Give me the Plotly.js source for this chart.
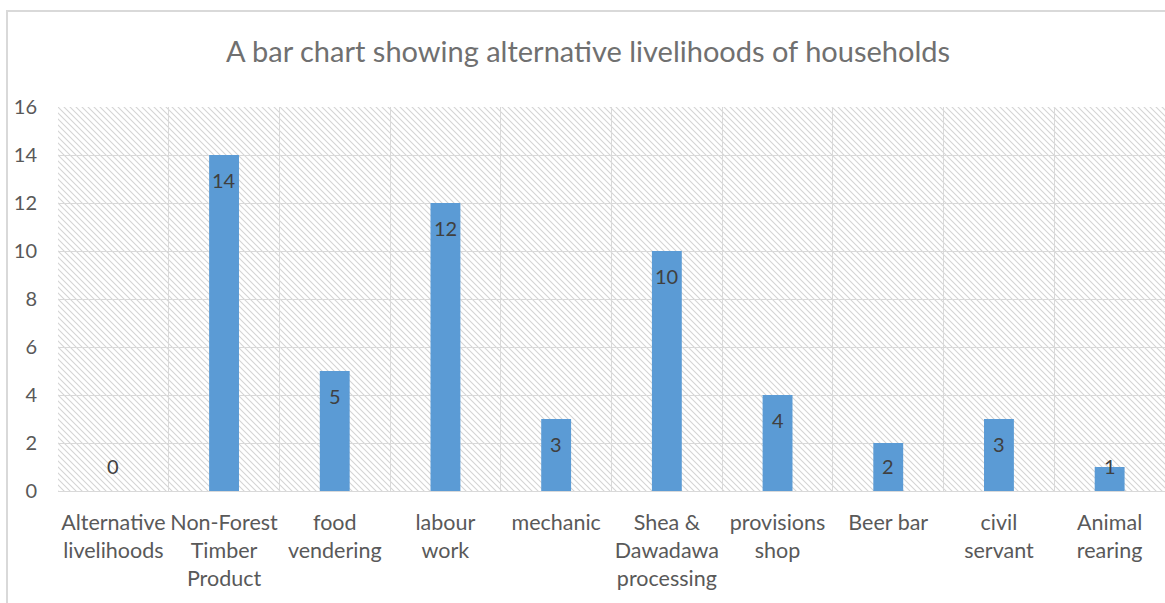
<!DOCTYPE html>
<html>
<head>
<meta charset="utf-8">
<script src="https://cdn.plot.ly/plotly-3.0.1.min.js"></script>
<style>
  html, body { margin: 0; padding: 0; background: #fff; }
  #wrap { position: relative; width: 1165px; height: 603px; overflow: hidden; }
  #chart { position: absolute; left: 0; top: 0; width: 1165px; height: 603px; }
  #frame { position: absolute; left: 6px; top: 10px; width: 1200px; height: 700px;
           border-left: 2px solid #d9d9d9; border-top: 2px solid #d9d9d9; pointer-events: none; }
</style>
</head>
<body>
<div id="wrap"><div id="chart"></div><div id="frame"></div></div>
<script>
// ---- data ----
const categories = [
  "Alternative<br>livelihoods",
  "Non-Forest<br>Timber<br>Product",
  "food<br>vendering",
  "labour<br>work",
  "mechanic",
  "Shea &amp;<br>Dawadawa<br>processing",
  "provisions<br>shop",
  "Beer bar",
  "civil<br>servant",
  "Animal<br>rearing"
];
const households = [0, 14, 5, 12, 3, 10, 4, 2, 3, 1];
const yTicks = [0, 2, 4, 6, 8, 10, 12, 14, 16];
const chartTitle = "A bar chart showing alternative livelihoods of households";

// ---- layout geometry ----
const W = 1165, H = 603;
const margin = {l: 58, r: 0, t: 107, b: 112, pad: 0};
const plotW = W - margin.l - margin.r;
const plotH = H - margin.t - margin.b;
const yMax = 16;
const pxPerUnit = plotH / yMax;

// hatched plot-area background
const hatchSvg =
  '<svg xmlns="http://www.w3.org/2000/svg" width="' + plotW + '" height="' + plotH + '">' +
  '<defs><pattern id="p" width="6" height="6" patternUnits="userSpaceOnUse">' +
  '<path d="M-1,-1 L7,7 M-7,-1 L1,7 M5,-1 L13,7" stroke="#d4d4d4" stroke-width="1.1"/>' +
  '</pattern></defs><rect width="100%" height="100%" fill="url(#p)"/></svg>';
const hatchURI = 'data:image/svg+xml;charset=utf-8,' + encodeURIComponent(hatchSvg);

// data labels: inside-end, kept at least ~25px above baseline (Excel behaviour)
const offUnits = 25 / pxPerUnit;
const labelAnnotations = households.map((v, i) => ({
  x: categories[i], y: Math.max(v - offUnits, offUnits),
  xref: 'x', yref: 'y', text: String(v), showarrow: false,
  yanchor: 'middle', xanchor: 'center',
  font: {family: 'Lato, Calibri, sans-serif', size: 20, color: '#404040'}
}));

const trace = {
  type: 'bar',
  x: categories,
  y: households,
  width: 0.27,
  marker: {color: '#5b9bd5', line: {width: 0}},
  hoverinfo: 'x+y'
};

const layout = {
  width: W, height: H,
  margin: margin,
  paper_bgcolor: '#ffffff',
  plot_bgcolor: 'rgba(0,0,0,0)',
  showlegend: false,
  bargap: 0.73,
  title: {
    text: chartTitle,
    x: 588 / W, xref: 'container', xanchor: 'center',
    y: 1 - 52 / H, yref: 'container', yanchor: 'middle',
    font: {family: 'Lato, Calibri, sans-serif', size: 29, color: '#707070'}
  },
  xaxis: {
    type: 'category',
    tickson: 'boundaries',
    showgrid: true, gridcolor: '#d9d9d9', gridwidth: 1,
    showline: true, linecolor: '#d9d9d9', linewidth: 1,
    ticks: '', ticklabelstandoff: 12, tickangle: 0,
    tickfont: {family: 'Lato, Calibri, sans-serif', size: 21.5, color: '#595959'},
    fixedrange: true
  },
  yaxis: {
    range: [0, yMax],
    tickvals: yTicks,
    ticktext: yTicks.map(String),
    showgrid: true, gridcolor: '#d9d9d9', gridwidth: 1,
    zeroline: false, showline: false,
    ticks: '', ticklabelstandoff: 20,
    tickfont: {family: 'Lato, Calibri, sans-serif', size: 20, color: '#595959'},
    fixedrange: true
  },
  images: [{
    source: hatchURI, xref: 'paper', yref: 'paper',
    x: 0, y: 1, sizex: 1, sizey: 1, xanchor: 'left', yanchor: 'top',
    sizing: 'stretch', layer: 'below'
  }],
  annotations: labelAnnotations
};

Plotly.newPlot('chart', [trace], layout, {displayModeBar: false, staticPlot: true});
</script>
</body>
</html>
